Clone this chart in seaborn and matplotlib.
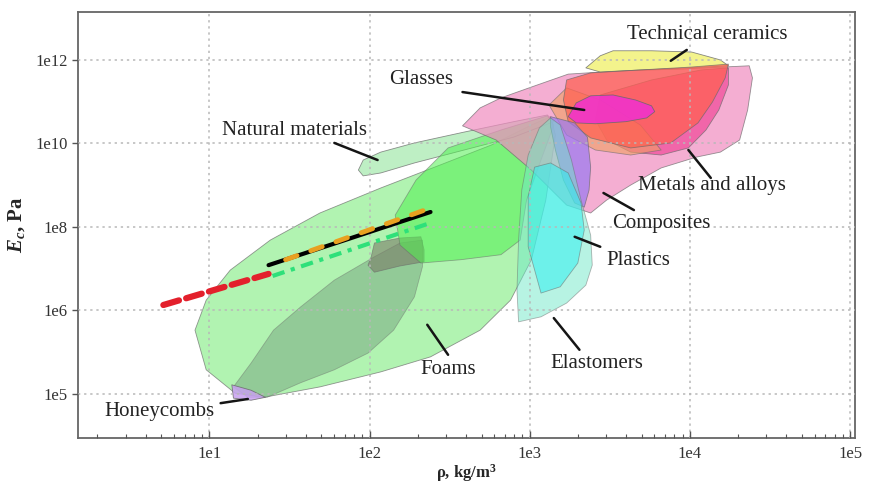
import numpy as np
import pandas as pd
import seaborn as sns
from matplotlib import pyplot as plt

# material regions, outlines as log10(rho [kg/m3]) / log10(E [Pa])
foams_outer_rho = [0.91, 0.98, 1.13, 1.38, 1.69, 2.07, 2.44, 2.76, 3.01, 3.13, 3.16, 3.10, 3.01, 2.88, 2.69, 2.38, 2.07, 1.69, 1.34, 1.16, 0.98]
foams_outer_E = [5.52, 6.24, 6.96, 7.68, 8.33, 8.93, 9.48, 9.96, 10.44, 10.64, 10.20, 8.64, 7.21, 6.24, 5.52, 4.88, 4.52, 4.16, 3.91, 4.01, 4.57]

foams_inner_rho = [1.15, 1.26, 1.40, 1.57, 1.78, 2.03, 2.19, 2.33, 2.33, 2.28, 2.15, 1.99, 1.78, 1.57, 1.36, 1.24]
foams_inner_E = [4.16, 4.73, 5.52, 6.08, 6.72, 7.28, 7.61, 7.68, 7.04, 6.32, 5.52, 4.97, 4.57, 4.26, 3.91, 3.91]

cork_rho = [2.01, 2.03, 2.19, 2.32, 2.34, 2.34, 2.19, 2.03, 1.99]
cork_E = [7.28, 7.61, 7.73, 7.76, 7.45, 7.16, 7.06, 6.91, 7.08]

natural_rho = [1.93, 1.96, 2.07, 2.28, 2.59, 2.90, 3.11, 3.15, 2.90, 2.59, 2.28, 2.07, 1.96]
natural_E = [9.36, 9.60, 9.79, 10.01, 10.27, 10.52, 10.68, 10.52, 10.15, 9.84, 9.53, 9.29, 9.22]

wood_rho = [2.49, 2.82, 3.11, 3.15, 3.07, 2.98, 2.94, 2.82, 2.57, 2.32, 2.19, 2.16, 2.29]
wood_E = [9.89, 10.32, 10.66, 10.44, 9.60, 8.64, 7.68, 7.33, 7.21, 7.13, 7.56, 8.28, 9.12]

composites_rho = [2.58, 2.69, 2.82, 3.01, 3.24, 3.57, 3.94, 4.37, 4.39, 4.36, 4.31, 4.19, 4.04, 3.82, 3.63, 3.48, 3.38, 3.23, 3.01, 2.79]
composites_E = [10.42, 10.85, 11.09, 11.35, 11.66, 11.74, 11.78, 11.86, 11.57, 10.80, 10.08, 9.79, 9.67, 9.41, 9.00, 8.64, 8.33, 8.52, 9.36, 10.08]

metals_rho = [3.44, 3.76, 4.07, 4.24, 4.24, 4.18, 4.10, 3.99, 3.82, 3.63, 3.48, 3.41]
metals_E = [11.16, 11.52, 11.76, 11.81, 11.40, 10.80, 10.32, 9.89, 9.72, 9.79, 10.08, 10.56]

porous_rho = [3.12, 3.23, 3.44, 3.69, 3.82, 3.63, 3.41, 3.23]
porous_E = [10.92, 11.33, 11.04, 10.44, 9.84, 9.72, 9.84, 10.20]

ceramics_rho = [3.35, 3.44, 3.52, 3.76, 4.01, 4.19, 4.24, 4.01, 3.69, 3.44]
ceramics_E = [11.81, 12.10, 12.22, 12.22, 12.19, 12.00, 11.86, 11.81, 11.76, 11.71]

ceramics_core_rho = [3.23, 3.38, 3.69, 4.01, 4.24, 4.22, 4.14, 4.05, 3.88, 3.63, 3.38, 3.24, 3.21]
ceramics_core_E = [11.52, 11.69, 11.76, 11.83, 11.90, 11.57, 10.99, 10.49, 10.01, 9.89, 10.13, 10.52, 11.04]

glasses_rho = [3.24, 3.29, 3.38, 3.52, 3.66, 3.76, 3.78, 3.73, 3.60, 3.41, 3.29]
glasses_E = [10.64, 10.97, 11.14, 11.16, 11.04, 10.90, 10.76, 10.61, 10.52, 10.47, 10.49]

fibres_rho = [3.13, 3.28, 3.36, 3.38, 3.37, 3.34, 3.28, 3.21, 3.16, 3.13]
fibres_E = [10.64, 10.49, 10.15, 9.43, 8.88, 8.47, 8.57, 9.12, 9.84, 10.39]

elastomers_rho = [2.93, 2.92, 2.93, 2.95, 2.99, 3.06, 3.13, 3.19, 3.26, 3.32, 3.38, 3.39, 3.35, 3.23, 3.07]
elastomers_E = [5.72, 6.48, 7.68, 8.88, 9.72, 10.37, 10.61, 10.44, 9.60, 8.64, 7.80, 7.08, 6.60, 6.17, 5.84]

plastics_rho = [3.07, 2.99, 2.99, 3.03, 3.13, 3.24, 3.32, 3.34, 3.30, 3.19]
plastics_E = [6.41, 7.52, 8.72, 9.43, 9.53, 9.29, 8.57, 7.92, 7.13, 6.56]

honeycomb_rho = [1.14, 1.26, 1.35, 1.26, 1.15]
honeycomb_E = [4.21, 4.08, 3.91, 3.84, 3.89]

# model lines (rho [kg/m3], E [Pa])
red_rho, red_E = [5.16, 23.4], [1.33e6, 7.4e6]
black_rho, black_E = [23.4, 240], [1.2e7, 2.26e8]
orange_rho, orange_E = [29.9, 234], [1.62e7, 2.72e8]
green_rho, green_E = [24.8, 230], [6.6e6, 1.17e8]

# labels: text, text position, pointer start, pointer end (log10 values)
label_names = ["Technical ceramics", "Glasses", "Natural materials", "Metals and alloys",
               "Composites", "Plastics", "Elastomers", "Foams", "Honeycombs"]
label_x = [4.11, 2.32, 1.53, 4.14, 3.82, 3.68, 3.42, 2.49, 0.69]
label_y = [12.60, 11.52, 10.30, 8.98, 8.07, 7.18, 4.71, 4.57, 3.56]
ptr_x0 = [3.98, 2.58, 1.78, 3.99, 3.46, 3.28, 3.15, 2.36, 1.07]
ptr_y0 = [12.24, 11.23, 10.01, 9.84, 8.81, 7.76, 5.81, 5.65, 3.77]
ptr_x1 = [3.88, 3.34, 2.05, 4.13, 3.65, 3.44, 3.31, 2.49, 1.24]
ptr_y1 = [11.98, 10.80, 9.60, 9.17, 8.40, 7.52, 5.05, 4.93, 3.87]

x_ticks = [1e1, 1e2, 1e3, 1e4, 1e5]
x_ticklabels = ["1e1", "1e2", "1e3", "1e4", "1e5"]
y_ticks = [1e4, 1e6, 1e8, 1e10, 1e12]
y_ticklabels = ["1e5", "1e6", "1e8", "1e10", "1e12"]

sns.set_theme(style="ticks")
plt.rcParams['font.family'] = ['Liberation Serif', 'DejaVu Serif']
plt.rcParams['mathtext.fontset'] = 'custom'
plt.rcParams['mathtext.it'] = 'Liberation Serif:italic:bold'
plt.rcParams['mathtext.rm'] = 'Liberation Serif:bold'

fig = plt.figure(figsize=(8.71, 4.83), dpi=100)
ax = fig.add_axes([0.0896, 0.0932, 0.892, 0.882])
ax.set_xscale('log')
ax.set_yscale('log')

# back to front
regions = [
    (foams_outer_rho, foams_outer_E, '#90ee90', 0.7),
    (foams_inner_rho, foams_inner_E, '#6e9a78', 0.45),
    (cork_rho, cork_E, '#7a7c68', 0.6),
    (natural_rho, natural_E, '#a8eab0', 0.75),
    (wood_rho, wood_E, '#50f050', 0.55),
    (composites_rho, composites_E, '#f08cc0', 0.7),
    (metals_rho, metals_E, '#f04898', 0.7),
    (porous_rho, porous_E, '#f0a060', 0.6),
    (ceramics_rho, ceramics_E, '#f0f070', 0.8),
    (ceramics_core_rho, ceramics_core_E, '#ff6050', 0.72),
    (glasses_rho, glasses_E, '#f030d0', 0.85),
    (fibres_rho, fibres_E, '#9a78f0', 0.7),
    (elastomers_rho, elastomers_E, '#70e8c8', 0.5),
    (plastics_rho, plastics_E, '#30f0f0', 0.55),
    (honeycomb_rho, honeycomb_E, '#c8a0f0', 0.85),
]
for rho, E, col, a in regions:
    ax.fill(10 ** np.array(rho), 10 ** np.array(E), facecolor=col, alpha=a,
            edgecolor='#6a6a6a', linewidth=0.6, joinstyle='round')

sns.lineplot(x=red_rho, y=red_E, ax=ax, color='#e3202c', lw=4.5,
             dashes=(2.6, 1.2), dash_capstyle='round', zorder=5)
sns.lineplot(x=black_rho, y=black_E, ax=ax, color='black', lw=3, zorder=5)
sns.lineplot(x=orange_rho, y=orange_E, ax=ax, color='#e8a020', lw=3.5,
             dashes=(2.5, 3), dash_capstyle='round', zorder=6)
sns.lineplot(x=green_rho, y=green_E, ax=ax, color='#2ee07a', lw=3,
             dashes=(3, 1.6, 1, 1.6), zorder=5)

for i, name in enumerate(label_names):
    ax.plot(10 ** np.array([ptr_x0[i], ptr_x1[i]]), 10 ** np.array([ptr_y0[i], ptr_y1[i]]),
            color='#151515', lw=1.8, zorder=7)
    ax.text(10 ** label_x[i], 10 ** label_y[i], name, ha='center', va='center',
            fontsize=15, color='#222222', zorder=8)

ax.set_xlim(10 ** 0.18, 10 ** 5.03)
ax.set_ylim(10 ** 2.935, 10 ** 13.15)
ax.set_xticks(x_ticks)
ax.set_xticklabels(x_ticklabels)
ax.set_yticks(y_ticks)
ax.set_yticklabels(y_ticklabels)
ax.yaxis.set_minor_locator(plt.NullLocator())
ax.tick_params(axis='x', which='major', direction='in', length=5, width=1, colors='#555555',
               labelcolor='#333333', labelsize=12, pad=6)
ax.tick_params(axis='x', which='minor', direction='in', length=3, width=0.8, colors='#555555')
ax.tick_params(axis='y', which='major', direction='out', length=4, width=1, colors='#555555',
               labelcolor='#333333', labelsize=12)

ax.grid(True, which='major', ls=(0, (1.5, 2.5)), color='#b8b8b8', lw=1.1)
ax.set_axisbelow(False)
for sp in ax.spines.values():
    sp.set_color('#666666')
    sp.set_linewidth(1.3)

ax.set_xlabel('ρ, kg/m$^3$', fontsize=12, fontweight='bold', labelpad=0)
ax.set_ylabel('$E_c$, Pa', fontsize=15, fontweight='bold', labelpad=6)

fig.savefig('out.png', dpi=100)
